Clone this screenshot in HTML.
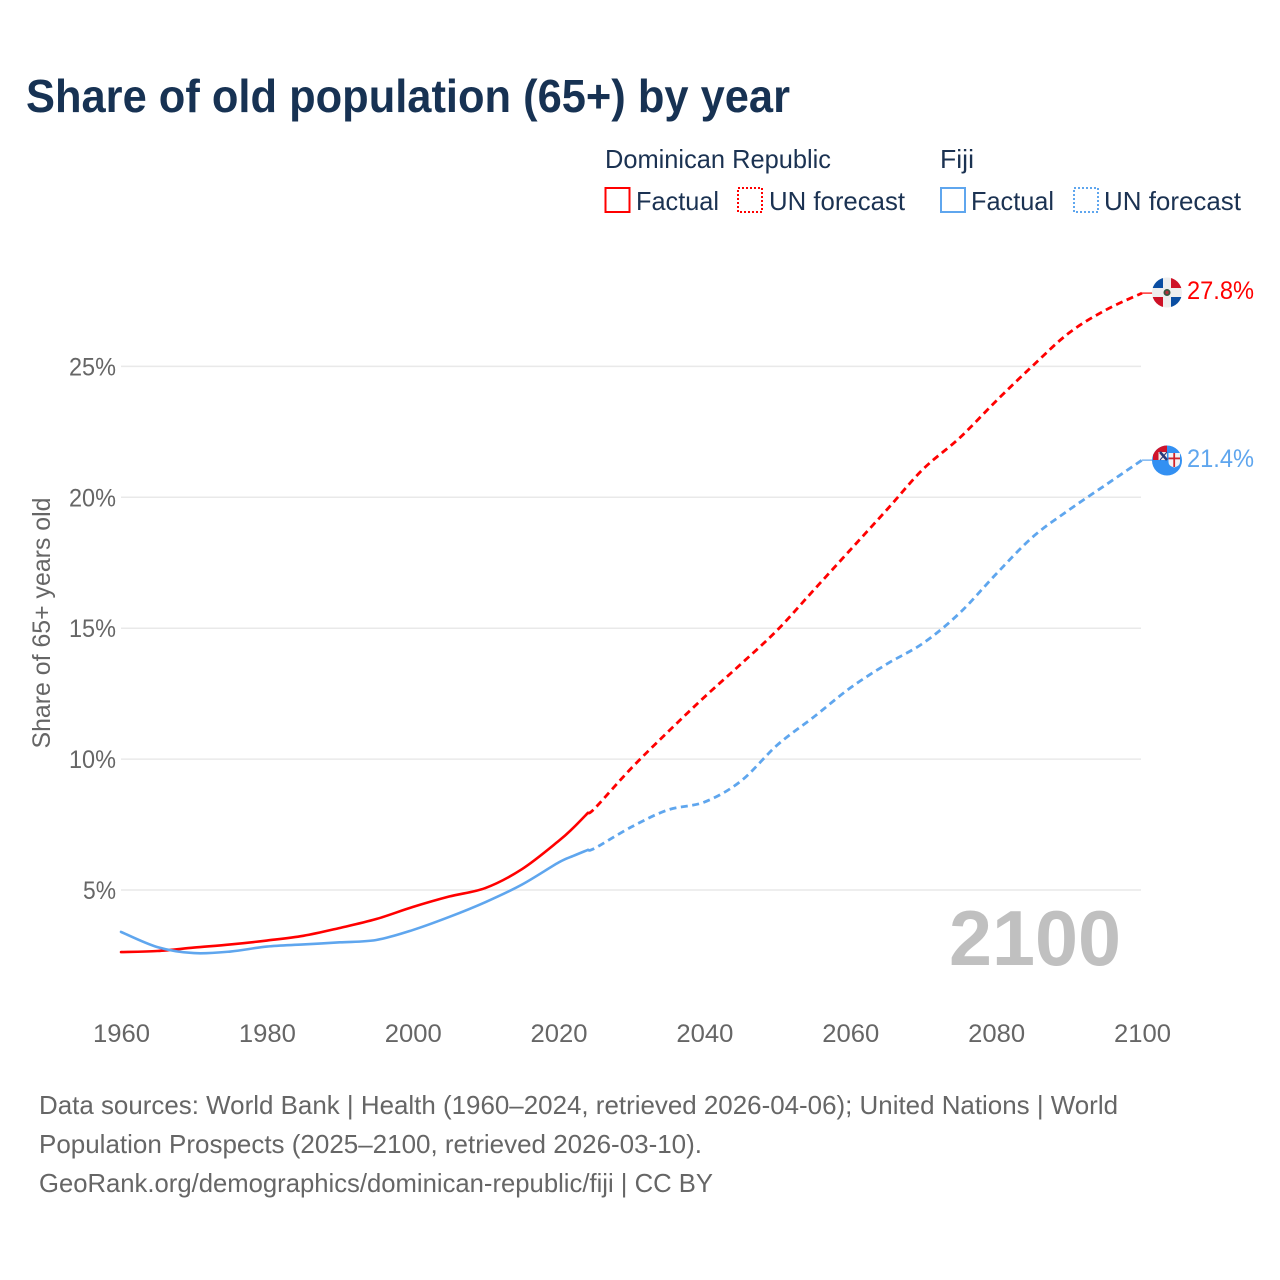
<!DOCTYPE html>
<html lang="en">
<head>
<meta charset="utf-8">
<title>Share of old population (65+) by year</title>
<style>
html,body{margin:0;padding:0;background:#fff;width:1280px;height:1280px;overflow:hidden}
svg{display:block}
text{font-family:"Liberation Sans",sans-serif}
</style>
</head>
<body>
<svg id="chart" xmlns="http://www.w3.org/2000/svg" width="1280" height="1280" viewBox="0 0 1280 1280">
  <rect x="0" y="0" width="1280" height="1280" fill="#fff"/>
  <text x="26" y="112" font-size="46" font-weight="700" fill="#173253" textLength="764" lengthAdjust="spacingAndGlyphs">Share of old population (65+) by year</text>

  <g font-size="26" fill="#1b3252">
    <text x="605" y="168" textLength="226" lengthAdjust="spacingAndGlyphs">Dominican Republic</text>
    <text x="940" y="168" textLength="34" lengthAdjust="spacingAndGlyphs">Fiji</text>
    <rect x="605.500" y="188" width="24" height="24" fill="none" stroke="#ff0000" stroke-width="2"/>
    <text x="636" y="210" textLength="83" lengthAdjust="spacingAndGlyphs">Factual</text>
    <rect x="738" y="188" width="24" height="24" fill="none" stroke="#ff0000" stroke-width="2" stroke-dasharray="2 2"/>
    <text x="769" y="210" textLength="136" lengthAdjust="spacingAndGlyphs">UN forecast</text>
    <rect x="941" y="188" width="24" height="24" fill="none" stroke="#5fa6ee" stroke-width="2"/>
    <text x="971" y="210" textLength="83" lengthAdjust="spacingAndGlyphs">Factual</text>
    <rect x="1074" y="188" width="24" height="24" fill="none" stroke="#5fa6ee" stroke-width="2" stroke-dasharray="2 2"/>
    <text x="1104" y="210" textLength="137" lengthAdjust="spacingAndGlyphs">UN forecast</text>
  </g>

  <g id="grid"></g>
  <g id="yticks" font-size="25" fill="#666"></g>
  <g id="xticks" font-size="25" fill="#666"></g>

  <text transform="translate(50 623) rotate(-90)" text-anchor="middle" font-size="25" fill="#666" textLength="251" lengthAdjust="spacingAndGlyphs">Share of 65+ years old</text>

  <text x="949" y="965" font-size="78" font-weight="700" fill="#c0c0c0" textLength="172" lengthAdjust="spacingAndGlyphs">2100</text>

  <g id="series"></g>

  <defs>
    <clipPath id="clip-dr"><circle cx="1167" cy="292.500" r="15"/></clipPath>
    <clipPath id="clip-fj"><circle cx="1167" cy="460.500" r="15"/></clipPath>
  </defs>

  <g clip-path="url(#clip-dr)">
    <rect x="1152" y="277" width="31" height="31" fill="#eeeeee"/>
    <rect x="1152" y="277" width="11" height="11" fill="#0b4ea2"/>
    <rect x="1171" y="277" width="12" height="11" fill="#ce1126"/>
    <rect x="1152" y="297" width="11" height="11" fill="#ce1126"/>
    <rect x="1171" y="297" width="12" height="11" fill="#0b4ea2"/>
    <circle cx="1167" cy="292.500" r="3.500" fill="#37553f"/>
    <circle cx="1167" cy="292.500" r="1.700" fill="#b5303a"/>
  </g>

  <g clip-path="url(#clip-fj)">
    <rect x="1152" y="445" width="31" height="31" fill="#3390f2"/>
    <rect x="1153" y="445" width="14" height="15" fill="#cf142b"/>
    <rect x="1158.500" y="452" width="8.500" height="8" fill="#f2e6e6"/>
    <path d="M1160 452 L1167 460" stroke="#27397a" stroke-width="2.500"/>
    <path d="M1167 452 L1160 460" stroke="#27397a" stroke-width="1"/>
    <path d="M1168.500 453 H1180 V462 Q1180 466 1174.200 467.500 Q1168.500 466 1168.500 462 Z" fill="#f3f3f3"/>
    <rect x="1173.300" y="453" width="1.800" height="14" fill="#d2232a"/>
    <rect x="1168.500" y="457.500" width="11.500" height="1.800" fill="#d2232a"/>
  </g>

  <text id="label-dr" x="1187" y="299" font-size="25" fill="#ff0000" textLength="67" lengthAdjust="spacingAndGlyphs">27.8%</text>
  <text id="label-fj" x="1187" y="467" font-size="25" fill="#5fa6ee" textLength="67" lengthAdjust="spacingAndGlyphs">21.4%</text>

  <g font-size="26" fill="#666">
    <text x="39" y="1114" textLength="1079" lengthAdjust="spacingAndGlyphs">Data sources: World Bank | Health (1960–2024, retrieved 2026-04-06); United Nations | World</text>
    <text x="39" y="1153" textLength="663" lengthAdjust="spacingAndGlyphs">Population Prospects (2025–2100, retrieved 2026-03-10).</text>
    <text x="39" y="1192" textLength="674" lengthAdjust="spacingAndGlyphs">GeoRank.org/demographics/dominican-republic/fiji | CC BY</text>
  </g>
</svg>

<script>
const factualYears = [1960,1965,1970,1975,1980,1985,1990,1995,2000,2005,2010,2015,2020,2022,2024];
const forecastYears = [2025,2030,2035,2040,2045,2050,2055,2060,2065,2070,2075,2080,2085,2090,2095,2100];
const dominicanFactual = [2.63,2.67,2.80,2.92,3.07,3.25,3.55,3.89,4.35,4.75,5.08,5.80,6.87,7.37,7.94];
const dominicanForecast = [8.13,9.66,11.04,12.37,13.63,14.93,16.46,17.99,19.52,21.08,22.27,23.68,25.02,26.28,27.15,27.80];
const fijiFactual = [3.40,2.82,2.59,2.65,2.84,2.92,3.00,3.09,3.47,3.97,4.54,5.21,6.05,6.30,6.53];
const fijiForecast = [6.60,7.41,8.06,8.36,9.16,10.54,11.61,12.72,13.63,14.43,15.58,17.07,18.48,19.52,20.47,21.42];
const yTickValues = [5,10,15,20,25];
const xTickValues = [1960,1980,2000,2020,2040,2060,2080,2100];

const NS = 'http://www.w3.org/2000/svg';
const RED = '#ff0000';
const BLUE = '#5fa6ee';
function xScale(year){ return 121 + (year - 1960) * (1142 - 121) / 140; }
function yScale(v){ return 890 - (v - 5) * 26.18; }
function mk(tag, attrs, parent){
  const el = document.createElementNS(NS, tag);
  for (const k in attrs) el.setAttribute(k, attrs[k]);
  parent.appendChild(el);
  return el;
}
function smoothPath(pts){
  let d = 'M' + pts[0][0].toFixed(2) + ' ' + pts[0][1].toFixed(2);
  for (let i = 0; i < pts.length - 1; i++){
    const p0 = pts[Math.max(i - 1, 0)], p1 = pts[i], p2 = pts[i + 1], p3 = pts[Math.min(i + 2, pts.length - 1)];
    const c1x = p1[0] + (p2[0] - p0[0]) / 6, c1y = p1[1] + (p2[1] - p0[1]) / 6;
    const c2x = p2[0] - (p3[0] - p1[0]) / 6, c2y = p2[1] - (p3[1] - p1[1]) / 6;
    d += 'C' + c1x.toFixed(2) + ' ' + c1y.toFixed(2) + ' ' + c2x.toFixed(2) + ' ' + c2y.toFixed(2) + ' ' + p2[0].toFixed(2) + ' ' + p2[1].toFixed(2);
  }
  return d;
}
function toPoints(years, values){ return years.map(function(y, i){ return [xScale(y), yScale(values[i])]; }); }

const gridG = document.getElementById('grid');
const yG = document.getElementById('yticks');
yTickValues.forEach(function(v){
  const line = mk('line', {x1:121, x2:1141, y1:yScale(v), y2:yScale(v), stroke:'#e9e9e9', 'stroke-width':1.5}, gridG);
  
  
  const label = v + '%';
  const t = mk('text', {x:116, y:yScale(v) + 9, 'text-anchor':'end', textLength:(label.length - 1) * 14 + 19, lengthAdjust:'spacingAndGlyphs'}, yG);
  t.textContent = label;
  
  
});

const xG = document.getElementById('xticks');
xTickValues.forEach(function(y){
  const t = mk('text', {x:xScale(y) + 0.5, y:1042, 'text-anchor':'middle', textLength:57, lengthAdjust:'spacingAndGlyphs'}, xG);
  t.textContent = String(y);
  
  
});

const seriesG = document.getElementById('series');
function drawSeries(name, color, factual, forecast){
  const fp = toPoints(factualYears, factual);
  const cp = toPoints(forecastYears, forecast);
  const solid = mk('path', {d:smoothPath(fp), fill:'none', stroke:color, 'stroke-width':2.6, 'stroke-linejoin':'round', 'stroke-linecap':'round'}, seriesG);
  
  
  const dashPts = [fp[fp.length - 1]].concat(cp);
  const dashed = mk('path', {d:smoothPath(dashPts), fill:'none', stroke:color, 'stroke-width':2.8, 'stroke-dasharray':'7 4.5', 'stroke-linejoin':'round'}, seriesG);
  
  
  const last = cp[cp.length - 1];
  const conn = mk('line', {x1:last[0], x2:1153, y1:last[1], y2:last[1], stroke:color, 'stroke-width':1.2}, seriesG);
  
  
}
drawSeries('dominican-republic', RED, dominicanFactual, dominicanForecast);
drawSeries('fiji', BLUE, fijiFactual, fijiForecast);
</script>
</body>
</html>
